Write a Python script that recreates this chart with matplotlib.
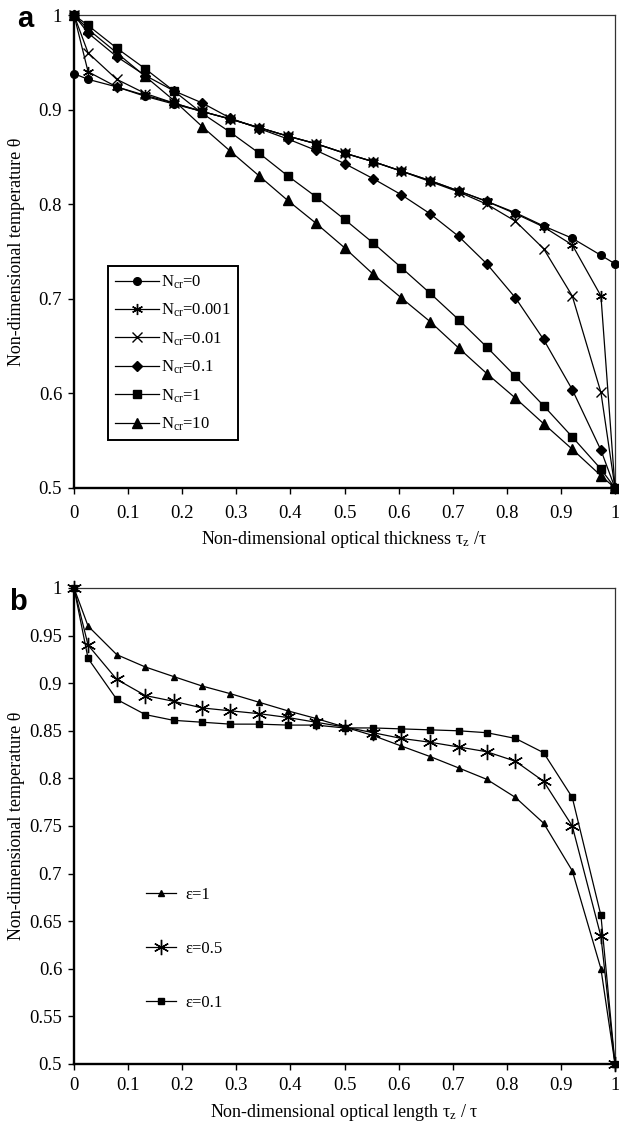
import matplotlib
matplotlib.use("Agg")
import matplotlib.pyplot as plt

plt.rcParams['font.family'] = ['Liberation Serif', 'DejaVu Serif']
plt.rcParams['mathtext.fontset'] = 'custom'
plt.rcParams['mathtext.rm'] = 'Liberation Serif'
plt.rcParams['mathtext.it'] = 'Liberation Serif:italic'

# ---------------- data ----------------
x_pos = [0, 0.026, 0.079, 0.132, 0.184, 0.237, 0.289, 0.342, 0.395, 0.447, 0.5,
         0.553, 0.605, 0.658, 0.711, 0.763, 0.816, 0.868, 0.921, 0.974, 1]

# panel a : N_cr series
n_cr_0 = [0.938, 0.932, 0.924, 0.914, 0.906, 0.898, 0.890, 0.881, 0.872, 0.864, 0.854,
          0.845, 0.835, 0.825, 0.814, 0.803, 0.791, 0.777, 0.764, 0.746, 0.737]
n_cr_0001 = [1.0, 0.940, 0.924, 0.915, 0.907, 0.898, 0.890, 0.881, 0.872, 0.864, 0.854,
             0.845, 0.835, 0.825, 0.814, 0.803, 0.790, 0.776, 0.757, 0.703, 0.5]
n_cr_001 = [1.0, 0.960, 0.932, 0.917, 0.907, 0.898, 0.890, 0.881, 0.872, 0.864, 0.854,
            0.845, 0.835, 0.824, 0.813, 0.800, 0.782, 0.753, 0.703, 0.601, 0.5]
n_cr_01 = [1.0, 0.981, 0.956, 0.936, 0.920, 0.907, 0.891, 0.880, 0.869, 0.857, 0.843,
           0.827, 0.810, 0.790, 0.766, 0.737, 0.701, 0.657, 0.604, 0.540, 0.5]
n_cr_1 = [1.0, 0.989, 0.965, 0.943, 0.920, 0.896, 0.876, 0.854, 0.830, 0.808, 0.784,
          0.759, 0.733, 0.706, 0.678, 0.649, 0.618, 0.587, 0.554, 0.520, 0.5]
n_cr_10 = [1.0, 0.985, 0.960, 0.935, 0.910, 0.882, 0.856, 0.830, 0.804, 0.780, 0.754,
           0.726, 0.701, 0.676, 0.648, 0.621, 0.595, 0.568, 0.541, 0.513, 0.5]
labels_a = [r"N$_{\mathrm{cr}}$=0", r"N$_{\mathrm{cr}}$=0.001", r"N$_{\mathrm{cr}}$=0.01",
            r"N$_{\mathrm{cr}}$=0.1", r"N$_{\mathrm{cr}}$=1", r"N$_{\mathrm{cr}}$=10"]

# panel b : emissivity series
eps_1 = [1.0, 0.960, 0.930, 0.917, 0.907, 0.897, 0.889, 0.880, 0.871, 0.863, 0.854,
         0.845, 0.834, 0.823, 0.811, 0.799, 0.780, 0.753, 0.703, 0.600, 0.5]
eps_05 = [1.0, 0.940, 0.904, 0.887, 0.881, 0.874, 0.871, 0.868, 0.864, 0.859, 0.854,
          0.848, 0.842, 0.838, 0.833, 0.828, 0.818, 0.797, 0.750, 0.634, 0.5]
eps_01 = [1.0, 0.926, 0.883, 0.867, 0.861, 0.859, 0.857, 0.857, 0.856, 0.856, 0.853,
          0.853, 0.852, 0.851, 0.850, 0.848, 0.842, 0.827, 0.780, 0.656, 0.5]
labels_b = ["\u03b5=1", "\u03b5=0.5", "\u03b5=0.1"]

x_ticks = [0, 0.1, 0.2, 0.3, 0.4, 0.5, 0.6, 0.7, 0.8, 0.9, 1]
x_ticklabels = ["0", "0.1", "0.2", "0.3", "0.4", "0.5", "0.6", "0.7", "0.8", "0.9", "1"]
ya_ticks = [0.5, 0.6, 0.7, 0.8, 0.9, 1.0]
ya_ticklabels = ["0.5", "0.6", "0.7", "0.8", "0.9", "1"]
yb_ticks = [0.5, 0.55, 0.6, 0.65, 0.7, 0.75, 0.8, 0.85, 0.9, 0.95, 1.0]
yb_ticklabels = ["0.5", "0.55", "0.6", "0.65", "0.7", "0.75", "0.8", "0.85", "0.9", "0.95", "1"]

# ---------------- figure ----------------
W, H = 619, 1121
fig = plt.figure(figsize=(W / 100, H / 100), dpi=100)

def px_axes(l, t, r, b):
    return fig.add_axes([l / W, 1 - b / H, (r - l) / W, (b - t) / H])

ax_a = px_axes(74, 15, 615, 488)
ax_b = px_axes(74, 588, 615, 1064)

def style(ax, yticks, yticklabels, xpad):
    ax.set_xlim(0, 1)
    ax.set_ylim(0.5, 1.0)
    ax.set_xticks(x_ticks)
    ax.set_xticklabels(x_ticklabels)
    ax.set_yticks(yticks)
    ax.set_yticklabels(yticklabels)
    ax.tick_params(axis='both', direction='out', length=4, width=1.0,
                   labelsize=13.5, colors='black')
    ax.tick_params(axis='y', pad=4.5)
    ax.tick_params(axis='x', pad=xpad)
    for s in ['left', 'bottom']:
        ax.spines[s].set_linewidth(1.7)
        ax.spines[s].set_color('black')
    for s in ['top', 'right']:
        ax.spines[s].set_linewidth(0.9)
        ax.spines[s].set_color('#333333')

style(ax_a, ya_ticks, ya_ticklabels, 8)
style(ax_b, yb_ticks, yb_ticklabels, 5)

lw = 0.9
kw = dict(color='black', lw=lw, clip_on=False, zorder=3)
ax_a.plot(x_pos, n_cr_0, marker='o', ms=5.5, label=labels_a[0], **kw)
ax_a.plot(x_pos, n_cr_0001, marker=(6, 2, 0), ms=8, mew=1.0, label=labels_a[1], **kw)
ax_a.plot(x_pos, n_cr_001, marker='x', ms=7, mew=1.0, label=labels_a[2], **kw)
ax_a.plot(x_pos, n_cr_01, marker='D', ms=5, label=labels_a[3], **kw)
ax_a.plot(x_pos, n_cr_1, marker='s', ms=6, label=labels_a[4], **kw)
ax_a.plot(x_pos, n_cr_10, marker='^', ms=6.5, label=labels_a[5], **kw)

leg_a = ax_a.legend(loc='upper left', bbox_to_anchor=(0.0623, 0.4693), borderaxespad=0,
                    frameon=True, fancybox=False, edgecolor='black', framealpha=1,
                    fontsize=12, handlelength=2.6, handletextpad=0.15,
                    labelspacing=0.66, borderpad=0.45)
leg_a.get_frame().set_linewidth(1.4)

ax_b.plot(x_pos, eps_1, marker='^', ms=5, label=labels_b[0], **kw)
ax_b.plot(x_pos, eps_05, marker=(6, 2, 0), ms=11, mew=1.0, label=labels_b[1], **kw)
ax_b.plot(x_pos, eps_01, marker='s', ms=4.5, label=labels_b[2], **kw)

ax_b.legend(loc='upper left', bbox_to_anchor=(0.134, 0.372), borderaxespad=0,
            frameon=False, fontsize=12, handlelength=1.8, handletextpad=0.55,
            labelspacing=2.27, borderpad=0)

ax_a.set_ylabel("Non-dimensional temperature \u03b8", fontsize=13)
ax_b.set_ylabel("Non-dimensional temperature \u03b8", fontsize=13)
ax_a.yaxis.set_label_coords(-0.09, 0.5)
ax_b.yaxis.set_label_coords(-0.09, 0.5)
ax_a.set_xlabel("Non-dimensional optical thickness \u03c4$_{\\mathrm{z}}$ /\u03c4", fontsize=13, labelpad=5)
ax_b.set_xlabel("Non-dimensional optical length \u03c4$_{\\mathrm{z}}$ / \u03c4", fontsize=13, labelpad=6)

fig.text(17 / W, 1 - 27 / H, "a", fontsize=21, fontweight='bold',
         family=['Liberation Sans', 'DejaVu Sans'], ha='left', va='baseline')
fig.text(9 / W, 1 - 610 / H, "b", fontsize=21, fontweight='bold',
         family=['Liberation Sans', 'DejaVu Sans'], ha='left', va='baseline')

fig.savefig("out.png", dpi=100)
